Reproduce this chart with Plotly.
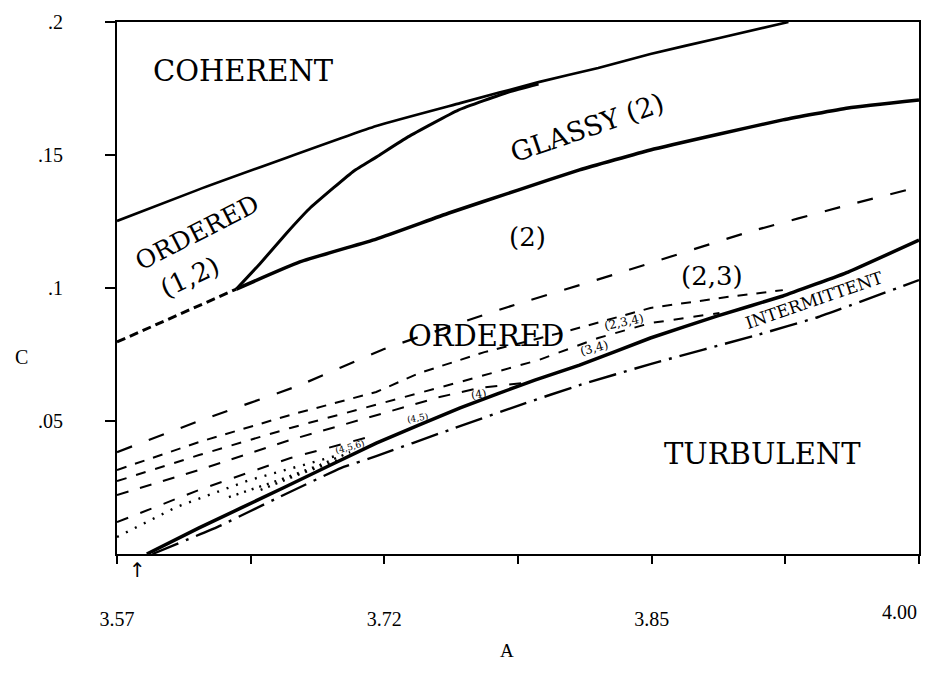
import numpy as np
import plotly.graph_objects as go

# ---------------- data (A, C) ----------------
coh_A = [3.570, 3.613, 3.709, 3.754, 3.796, 3.828, 3.856, 3.893, 3.930]
coh_C = [0.1252, 0.1368, 0.1609, 0.1695, 0.1774, 0.1827, 0.1880, 0.1940, 0.2000]

scurve_A = [3.634, 3.647, 3.661, 3.673, 3.686, 3.697, 3.709, 3.726, 3.753, 3.780, 3.796]
scurve_C = [0.0996, 0.1094, 0.1207, 0.1297, 0.1376, 0.1440, 0.1492, 0.1568, 0.1669, 0.1737, 0.1767]

glassy_low_A = [3.634, 3.668, 3.709, 3.748, 3.785, 3.818, 3.856, 3.893, 3.927, 3.962, 4.000]
glassy_low_C = [0.0996, 0.1098, 0.1184, 0.1282, 0.1368, 0.1444, 0.1519, 0.1579, 0.1632, 0.1677, 0.1707]

ord12_A = [3.570, 3.634]
ord12_C = [0.0797, 0.0996]

l1_A = [3.570, 3.614, 3.668, 3.712, 3.778, 3.839, 3.909, 3.962, 4.000]
l1_C = [0.0383, 0.0500, 0.0635, 0.0767, 0.0925, 0.1056, 0.1211, 0.1312, 0.1380]

l2_A = [3.570, 3.614, 3.663, 3.709, 3.732, 3.767, 3.810, 3.856, 3.897, 3.927]
l2_C = [0.0316, 0.0421, 0.0523, 0.0609, 0.0680, 0.0759, 0.0835, 0.0925, 0.0966, 0.0992]

l3_A = [3.570, 3.614, 3.663, 3.709, 3.754, 3.796, 3.828, 3.856, 3.893]
l3_C = [0.0274, 0.0372, 0.0474, 0.0560, 0.0647, 0.0729, 0.0812, 0.0868, 0.0906]

l4_A = [3.570, 3.614, 3.663, 3.709, 3.743, 3.764, 3.788]
l4_C = [0.0222, 0.0316, 0.0429, 0.0523, 0.0590, 0.0624, 0.0643]

l5_A = [3.570, 3.614, 3.663, 3.705]
l5_C = [0.0120, 0.0241, 0.0361, 0.0440]

l6_A = [3.570, 3.602, 3.641, 3.668, 3.689]
l6_C = [0.0064, 0.0177, 0.0278, 0.0331, 0.0372]

l7_A = [3.630, 3.657, 3.679, 3.695]
l7_C = [0.0214, 0.0278, 0.0335, 0.0383]

l8_A = [3.647, 3.668, 3.689]
l8_C = [0.0241, 0.0301, 0.0353]

solid_A = [3.586, 3.614, 3.659, 3.709, 3.754, 3.794, 3.818, 3.856, 3.892, 3.927, 3.962, 4.000]
solid_C = [0.0, 0.0098, 0.0248, 0.0417, 0.0549, 0.0654, 0.0710, 0.0812, 0.0895, 0.0970, 0.1060, 0.1180]

dd_A = [3.589, 3.624, 3.657, 3.690, 3.709, 3.748, 3.786, 3.818, 3.856, 3.913, 3.946, 4.000]
dd_C = [0.0, 0.0102, 0.0214, 0.0323, 0.0368, 0.0466, 0.0560, 0.0635, 0.0714, 0.0823, 0.0891, 0.1030]

x_tick_text = ["3.57", "", "3.72", "", "3.85", "", ""]
x_last_label = "4.00"
y_tick_vals = [0.05, 0.10, 0.15, 0.20]
y_tick_text = [".05", ".1", ".15", ".2"]

# region labels: (text, A, C, size, angle)
labels = [
    ("COHERENT", 3.638, 0.1816, 29, 0),
    ("GLASSY (2)", 3.822, 0.1605, 27, -19),
    ("(2)", 3.790, 0.1192, 26, 0),
    ("ORDERED", 3.613, 0.1207, 25, -27),
    ("(1,2)", 3.609, 0.1041, 26, -25),
    ("ORDERED", 3.768, 0.0820, 29, 0),
    ("(2,3)", 3.889, 0.1045, 26, 0),
    ("INTERMITTENT", 3.944, 0.0955, 17, -19),
    ("TURBULENT", 3.916, 0.0376, 29, 0),
    ("(2,3,4)", 3.842, 0.0872, 12, -12),
    ("(3,4)", 3.826, 0.0774, 12, -15),
    ("(4)", 3.764, 0.0598, 11, -10),
    ("(4,5)", 3.731, 0.0511, 9, -10),
    ("(4,5,6)", 3.695, 0.0402, 9, -15),
]

# ---------------- figure ----------------
fig = go.Figure()

def add_line(x, y, width, dash="solid", shape="spline", smoothing=0.4):
    fig.add_trace(go.Scatter(x=x, y=y, mode="lines",
                             line=dict(color="black", width=width, dash=dash,
                                       shape=shape, smoothing=smoothing),
                             hoverinfo="skip", showlegend=False))

add_line(coh_A, coh_C, 2.6)
add_line(scurve_A, scurve_C, 3.0)
add_line(glassy_low_A, glassy_low_C, 3.5)
add_line(ord12_A, ord12_C, 3.0, "9px,5px", "linear")
add_line(l1_A, l1_C, 2.2, "16px,18px")
add_line(l2_A, l2_C, 2.0, "10px,9px", "linear")
add_line(l3_A, l3_C, 2.0, "10px,10px", "linear")
add_line(l4_A, l4_C, 2.0, "12px,12px", "linear")
add_line(l5_A, l5_C, 2.0, "12px,13px", "linear")
add_line(l6_A, l6_C, 2.4, "2px,8px", "linear")
add_line(l7_A, l7_C, 2.4, "2px,6px", "linear")
add_line(l8_A, l8_C, 2.4, "2px,6px", "linear")
add_line(solid_A, solid_C, 3.5, smoothing=0.3)
add_line(dd_A, dd_C, 2.4, "28px,8px,3px,8px", smoothing=0.3)

font_lbl = "DejaVu Serif"
for text, a, c, size, ang in labels:
    fig.add_annotation(x=a, y=c, xref="x", yref="y", text=text, showarrow=False,
                       textangle=ang, font=dict(family=font_lbl, size=size, color="black"))

tick_font = dict(family="Liberation Serif", size=20, color="black")

# last x tick label sits flush with the right end of the axis
fig.add_annotation(x=4.00, y=-0.109, xref="x", yref="paper", text=x_last_label,
                   showarrow=False, xanchor="right", yanchor="middle", font=tick_font)

# arrow below the axis and axis titles
fig.add_annotation(x=3.581, y=-0.004, xref="x", yref="paper", text="↑", showarrow=False,
                   yanchor="top", font=dict(family="DejaVu Sans", size=20, color="black"))
fig.add_annotation(x=-0.13, y=0.37, xref="paper", yref="paper", text="C", showarrow=False,
                   font=dict(family="Liberation Serif", size=20, color="black"))
fig.add_annotation(x=0.486, y=-0.205, xref="paper", yref="paper", text="A", showarrow=False,
                   font=dict(family="Liberation Serif", size=19, color="black"))

x_tick_vals = list(np.linspace(3.57, 4.00, len(x_tick_text)))

fig.update_xaxes(range=[3.57, 4.00], showgrid=False, zeroline=False,
                 showline=True, mirror=True, linecolor="black", linewidth=2,
                 ticks="outside", ticklen=8, tickwidth=2, tickcolor="black",
                 tickvals=x_tick_vals, ticktext=x_tick_text, ticklabelstandoff=38,
                 tickfont=tick_font)
fig.update_yaxes(range=[0, 0.2], showgrid=False, zeroline=False,
                 showline=True, mirror=True, linecolor="black", linewidth=2,
                 ticks="outside", ticklen=10, tickwidth=2, tickcolor="black",
                 tickvals=y_tick_vals, ticktext=y_tick_text, ticklabelstandoff=38,
                 tickfont=tick_font)

fig.update_layout(width=927, height=673, margin=dict(l=117, r=6, t=22, b=119),
                  paper_bgcolor="white", plot_bgcolor="white", showlegend=False)

fig.write_html("out.html")
